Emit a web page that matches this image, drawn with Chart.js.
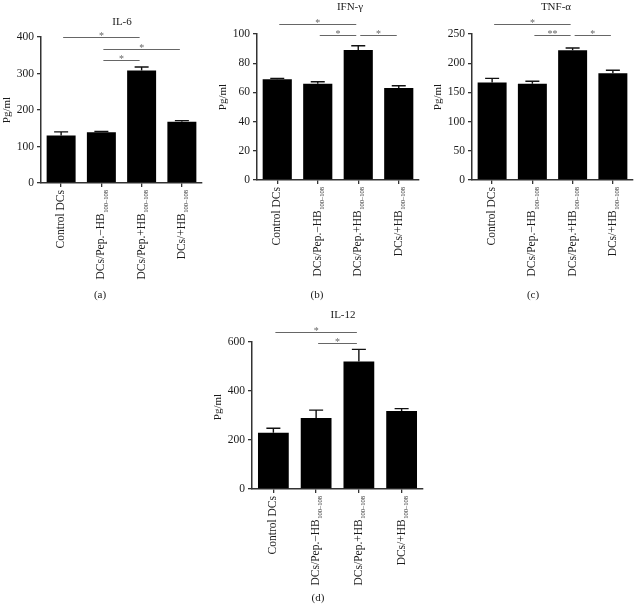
<!DOCTYPE html>
<html>
<head>
<meta charset="utf-8">
<script src="https://cdn.jsdelivr.net/npm/chart.js@4.4.1/dist/chart.umd.min.js"></script>
<style>
  html, body { margin: 0; padding: 0; background: #fff; }
  body { width: 637px; height: 608px; position: relative; overflow: hidden; }
  canvas { position: absolute; }
</style>
</head>
<body>
<canvas id="chartA" width="210" height="310" style="left:0px;top:0px"></canvas>
<canvas id="chartB" width="215" height="310" style="left:210px;top:0px"></canvas>
<canvas id="chartC" width="217" height="310" style="left:420px;top:0px"></canvas>
<canvas id="chartD" width="240" height="308" style="left:200px;top:300px"></canvas>
<script>
'use strict';

// Groups on the x axis (main text + subscript)
const categories = ['Control DCs', 'DCs/Pep.\u2212HB', 'DCs/Pep.+HB', 'DCs/+HB'];
const subscripts = ['', '100\u2013108', '100\u2013108', '100\u2013108'];

// IL-6
const il6Values = [130, 139, 308, 168];
const il6Errors = [10, 2, 10, 3];
const il6Ticks = [0, 100, 200, 300, 400];
// IFN-gamma
const ifnValues = [69, 66, 89, 63];
const ifnErrors = [0.6, 1.3, 3, 1.6];
const ifnTicks = [0, 20, 40, 60, 80, 100];
// TNF-alpha
const tnfValues = [167, 165, 222, 183];
const tnfErrors = [7, 4, 4, 5];
const tnfTicks = [0, 50, 100, 150, 200, 250];
// IL-12
const il12Values = [230, 290, 520, 318];
const il12Errors = [18, 32, 50, 10];
const il12Ticks = [0, 200, 400, 600];

// significance brackets: [from group, to group, level (in data units), mark]
const il6Sig = [[0, 2, 400, '*'], [1, 3, 367, '*'], [1, 2, 337, '*']];
const ifnSig = [[0, 2, 107, '*'], [1, 2, 99.3, '*'], [2, 3, 99.3, '*']];
const tnfSig = [[0, 2, 267, '*'], [1, 2, 248, '**'], [2, 3, 248, '*']];
const il12Sig = [[0, 2, 641, '*'], [1, 2, 596, '*']];

const FONT = '"Liberation Serif", "DejaVu Serif", serif';
const AXIS_COLOR = '#333';
const TEXT_COLOR = '#1a1a1a';

/**
 * Draws error caps, brackets, rotated group labels and panel texts
 */
const panelDecor = {
    id: 'panelDecor',
    afterDatasetsDraw(chart, args, opts) {
        const ctx = chart.ctx;
        const yScale = chart.scales.y;
        const xScale = chart.scales.x;
        const meta = chart.getDatasetMeta(0);

        // error bars (upper only)
        ctx.save();
        ctx.strokeStyle = '#111';
        ctx.lineWidth = 1.4;
        opts.errors.forEach((err, i) => {
            const bar = meta.data[i];
            const top = yScale.getPixelForValue(opts.values[i] + err);
            ctx.beginPath();
            ctx.moveTo(bar.x, bar.y);
            ctx.lineTo(bar.x, top);
            ctx.moveTo(bar.x - 7, top);
            ctx.lineTo(bar.x + 7, top);
            ctx.stroke();
        });
        ctx.restore();

        // significance brackets
        ctx.save();
        ctx.strokeStyle = '#666';
        ctx.fillStyle = '#666';
        ctx.lineWidth = 1;
        ctx.font = '10px ' + FONT;
        ctx.textAlign = 'center';
        ctx.textBaseline = 'alphabetic';
        opts.sig.forEach(([a, b, level, mark]) => {
            const x1 = xScale.getPixelForValue(a) + 2;
            const x2 = xScale.getPixelForValue(b) - 2;
            const y = Math.round(yScale.getPixelForValue(level)) + 0.5;
            ctx.beginPath();
            ctx.moveTo(x1, y);
            ctx.lineTo(x2, y);
            ctx.stroke();
            ctx.fillText(mark, (x1 + x2) / 2, y + 1);
        });
        ctx.restore();
    },
    afterDraw(chart, args, opts) {
        const ctx = chart.ctx;
        const xScale = chart.scales.x;
        const labelTop = chart.chartArea.bottom + 7;
        const mainFont = '11.5px ' + FONT;
        const subFont = '6.5px ' + FONT;

        // rotated group labels with subscripts
        ctx.save();
        ctx.fillStyle = TEXT_COLOR;
        categories.forEach((name, i) => {
            const cx = xScale.getPixelForValue(i);
            ctx.save();
            ctx.translate(cx, labelTop);
            ctx.rotate(-Math.PI / 2);
            ctx.textBaseline = 'middle';
            ctx.textAlign = 'left';
            ctx.font = mainFont;
            const wMain = ctx.measureText(name).width;
            ctx.font = subFont;
            const wSub = subscripts[i] ? ctx.measureText(subscripts[i]).width + 0.5 : 0;
            const start = -(wMain + wSub);
            ctx.font = mainFont;
            ctx.fillText(name, start, 0);
            if (subscripts[i]) {
                ctx.font = subFont;
                ctx.fillText(subscripts[i], start + wMain + 0.5, 4.5);
            }
            ctx.restore();
        });

        // title, y label, panel letter
        ctx.font = '11px ' + FONT;
        ctx.textAlign = 'center';
        ctx.textBaseline = 'middle';
        ctx.fillText(opts.title, opts.titleX, opts.titleY);
        ctx.fillText(opts.letter, opts.letterX, opts.letterY);
        ctx.save();
        ctx.translate(opts.yLabelX, opts.yLabelY);
        ctx.rotate(-Math.PI / 2);
        ctx.fillText('Pg/ml', 0, 0);
        ctx.restore();
        ctx.restore();
    }
};

/**
 * Build one panel
 * @param {Object} p - panel settings
 */
function makePanel(p) {
    const canvas = document.getElementById(p.id);
    const w = canvas.width;
    const h = canvas.height;
    return new Chart(canvas, {
        type: 'bar',
        data: {
            labels: categories,
            datasets: [{
                data: p.values,
                backgroundColor: '#000',
                borderWidth: 0,
                barPercentage: 0.72,
                categoryPercentage: 1
            }]
        },
        options: {
            responsive: false,
            animation: false,
            events: [],
            layout: {
                padding: { left: 0, right: w - p.area[1], top: p.area[2], bottom: 0 }
            },
            plugins: {
                legend: { display: false },
                tooltip: { enabled: false },
                panelDecor: {
                    values: p.values,
                    errors: p.errors,
                    sig: p.sig,
                    title: p.title,
                    titleX: p.titleX,
                    titleY: p.titleY,
                    letter: p.letter,
                    letterX: p.letterX,
                    letterY: p.letterY,
                    yLabelX: p.yLabelX,
                    yLabelY: p.yLabelY
                }
            },
            scales: {
                x: {
                    grid: {
                        display: true,
                        drawOnChartArea: false,
                        offset: false,
                        tickLength: 4,
                        color: AXIS_COLOR,
                        lineWidth: 1.3
                    },
                    border: { color: AXIS_COLOR, width: 1.5 },
                    ticks: { display: false },
                    afterFit: function(scale) { scale.height = h - p.area[3]; }
                },
                y: {
                    min: 0,
                    max: p.ticks[p.ticks.length - 1],
                    afterBuildTicks: function(scale) {
                        scale.ticks = p.ticks.map(v => ({ value: v }));
                    },
                    grid: {
                        drawOnChartArea: false,
                        tickLength: 4,
                        color: AXIS_COLOR,
                        lineWidth: 1.3
                    },
                    border: { color: AXIS_COLOR, width: 1.5 },
                    ticks: {
                        color: TEXT_COLOR,
                        padding: 3,
                        font: { family: FONT, size: 11.5 }
                    },
                    afterFit: function(scale) { scale.width = p.area[0]; }
                }
            }
        },
        plugins: [panelDecor]
    });
}

// area = [left, right, top, bottom] in canvas pixels
makePanel({
    id: 'chartA', values: il6Values, errors: il6Errors, ticks: il6Ticks, sig: il6Sig,
    area: [41, 202, 37, 183],
    title: 'IL-6', titleX: 122, titleY: 22,
    letter: '(a)', letterX: 100, letterY: 295,
    yLabelX: 7, yLabelY: 110
});
makePanel({
    id: 'chartB', values: ifnValues, errors: ifnErrors, ticks: ifnTicks, sig: ifnSig,
    area: [47, 209, 34, 180],
    title: 'IFN-\u03b3', titleX: 140, titleY: 7,
    letter: '(b)', letterX: 107, letterY: 295,
    yLabelX: 13, yLabelY: 97
});
makePanel({
    id: 'chartC', values: tnfValues, errors: tnfErrors, ticks: tnfTicks, sig: tnfSig,
    area: [52, 213, 34, 180],
    title: 'TNF-\u03b1', titleX: 136, titleY: 7,
    letter: '(c)', letterX: 113, letterY: 295,
    yLabelX: 18, yLabelY: 97
});
makePanel({
    id: 'chartD', values: il12Values, errors: il12Errors, ticks: il12Ticks, sig: il12Sig,
    area: [52, 223, 42, 189],
    title: 'IL-12', titleX: 143, titleY: 15,
    letter: '(d)', letterX: 118, letterY: 298,
    yLabelX: 18, yLabelY: 107
});
</script>
</body>
</html>
